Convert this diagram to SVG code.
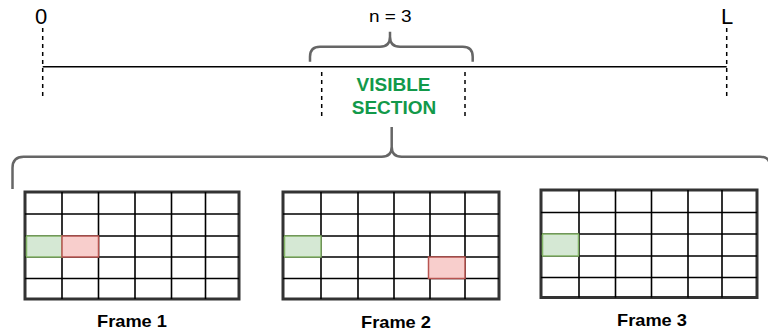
<svg xmlns="http://www.w3.org/2000/svg" width="768" height="334" viewBox="0 0 768 334">
<style>
.t{font-family:"Liberation Sans",Arial,sans-serif;fill:#000}
.b{font-weight:bold}
.g{fill:#12994a;font-weight:bold}
.dash{stroke:#000;stroke-width:1.5;stroke-dasharray:4 4;fill:none}
.brace{stroke:#666;stroke-width:2.5;fill:none}
.outer{fill:#fff;stroke:#333;stroke-width:3}
.in{stroke:#000;stroke-width:1.6;fill:none}
.gc{fill:#d5e8d4;stroke:#82b366;stroke-width:1.5}
.rc{fill:#f8cecc;stroke:#b85450;stroke-width:1.5}
</style>
<rect width="768" height="334" fill="#fff"/>
<g id="connectors">
<line x1="42.7" y1="66.7" x2="726.7" y2="66.7" stroke="#000" stroke-width="1.5"/>
<line class="dash" x1="42.7" y1="28" x2="42.7" y2="100"/>
<line class="dash" x1="726.7" y1="28" x2="726.7" y2="100"/>
<line class="dash" x1="321.7" y1="72" x2="321.7" y2="116"/>
<line class="dash" x1="465" y1="72" x2="465" y2="116"/>
<path class="brace" d="M310,61.7 V56.7 Q310,46.7 320,46.7 H380 Q390,46.7 390,36.7 V31.7 M390,36.7 Q390,46.7 400,46.7 H462.7 Q472.7,46.7 472.7,56.7 V61.7"/>
<path class="brace" d="M12.5,189 V168 Q12.5,156.7 23.5,156.7 H381.7 Q391.7,156.7 391.7,146.7 V127 M391.7,146.7 Q391.7,156.7 401.7,156.7 H760 Q770,156.7 770,166.7 V190"/>
</g>
<g id="label-0"><text class="t" x="41" y="24" font-size="22" text-anchor="middle">0</text></g>
<g id="label-L"><text class="t" x="727" y="24" font-size="22" text-anchor="middle">L</text></g>
<g id="label-n"><text class="t" x="390.3" y="21.7" font-size="16" text-anchor="middle" textLength="42.7" lengthAdjust="spacingAndGlyphs">n = 3</text></g>
<g id="visible-section">
<text class="t g" x="393.5" y="90.8" font-size="19" text-anchor="middle">VISIBLE</text>
<text class="t g" x="394" y="114" font-size="19" text-anchor="middle">SECTION</text>
</g>
<g id="frame1">
<rect class="outer" x="25" y="192" width="214" height="107"/>
<path class="in" d="M62,192V299M98.5,192V299M135,192V299M171.5,192V299M205.5,192V299M25,214H239M25,236H239M25,257H239M25,278.5H239"/>
<rect class="gc" x="26.5" y="236" width="35.5" height="21"/>
<rect class="rc" x="62" y="236" width="36.5" height="21"/>
<text class="t b" x="132" y="327" font-size="16.5" text-anchor="middle" textLength="70" lengthAdjust="spacingAndGlyphs">Frame 1</text>
</g>
<g id="frame2">
<rect class="outer" x="283" y="192" width="216" height="107"/>
<path class="in" d="M321,192V299M358,192V299M394,192V299M430,192V299M465,192V299M283,214H499M283,236H499M283,257H499M283,278.5H499"/>
<rect class="gc" x="284.5" y="236" width="36.5" height="21"/>
<rect class="rc" x="428.5" y="257" width="36.5" height="21.5"/>
<text class="t b" x="396" y="328" font-size="16.5" text-anchor="middle" textLength="70" lengthAdjust="spacingAndGlyphs">Frame 2</text>
</g>
<g id="frame3">
<rect class="outer" x="541" y="190" width="216" height="107.5"/>
<path class="in" d="M579,190V297.5M615.5,190V297.5M651.5,190V297.5M688,190V297.5M722,190V297.5M541,212.5H757M541,234H757M541,256H757M541,277.5H757"/>
<rect class="gc" x="542.5" y="234" width="36" height="22"/>
<text class="t b" x="652" y="326" font-size="16.5" text-anchor="middle" textLength="70" lengthAdjust="spacingAndGlyphs">Frame 3</text>
</g>
</svg>
